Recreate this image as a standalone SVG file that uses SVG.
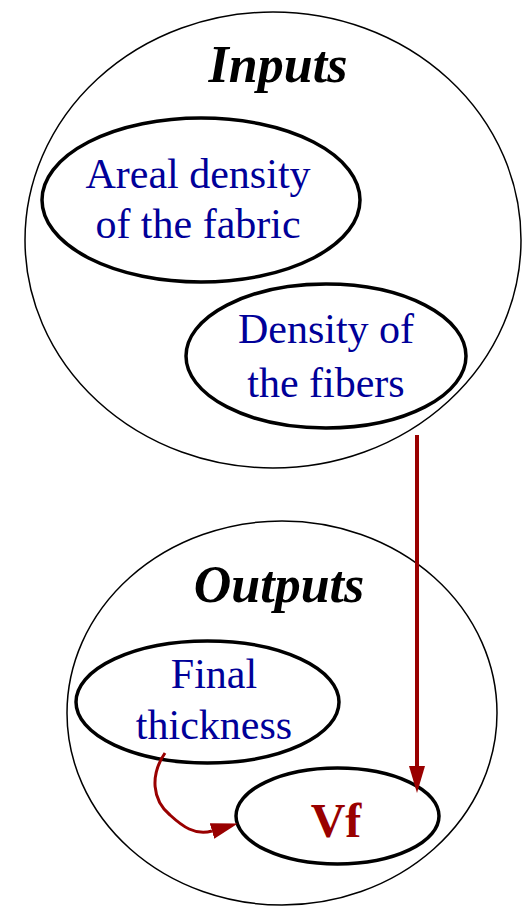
<svg xmlns="http://www.w3.org/2000/svg" width="522" height="906" viewBox="0 0 522 906">
  <style>
    .group { fill: none; stroke: #000; stroke-width: 1.5; }
    .item { fill: none; stroke: #000; stroke-width: 3.5; }
    .title { font-family: "Liberation Serif", "Times New Roman", serif; font-size: 52px; font-weight: bold; font-style: italic; fill: #000; text-anchor: middle; }
    .label { font-family: "Liberation Serif", "Times New Roman", serif; font-size: 42px; fill: #000099; text-anchor: middle; }
    .result { font-family: "Liberation Serif", "Times New Roman", serif; font-size: 48px; font-weight: bold; fill: #990000; text-anchor: middle; }
    .link { fill: none; stroke: #990000; }
  </style>
  <defs>
    <marker id="head" markerUnits="userSpaceOnUse" markerWidth="30" markerHeight="20" refX="0" refY="8" orient="auto" viewBox="0 0 30 16">
      <path d="M0,0 L27,8 L0,16 z" fill="#990000"/>
    </marker>
  </defs>

  <g id="inputs">
    <ellipse class="group" cx="273" cy="240" rx="248" ry="228"/>
    <text class="title" x="278" y="82">Inputs</text>
  </g>
  <g id="areal-density">
    <ellipse class="item" cx="201" cy="200" rx="159" ry="82"/>
    <text class="label" x="198" y="188">Areal density</text>
    <text class="label" x="198" y="238">of the fabric</text>
  </g>
  <g id="fiber-density">
    <ellipse class="item" cx="326" cy="356" rx="140" ry="72"/>
    <text class="label" x="326" y="343">Density of</text>
    <text class="label" x="326" y="397">the fibers</text>
  </g>

  <g id="outputs">
    <ellipse class="group" cx="282" cy="713" rx="215" ry="192"/>
    <text class="title" x="279" y="602">Outputs</text>
  </g>
  <g id="final-thickness">
    <ellipse class="item" cx="207.5" cy="702" rx="131.5" ry="61"/>
    <text class="label" x="214" y="688">Final</text>
    <text class="label" x="214" y="739">thickness</text>
  </g>
  <g id="vf">
    <ellipse class="item" cx="337.5" cy="816" rx="101.5" ry="48"/>
    <text class="result" x="336" y="837">Vf</text>
  </g>

  <g id="connectors">
    <line class="link" x1="417" y1="435" x2="417" y2="766" stroke-width="4" marker-end="url(#head)"/>
    <path class="link" d="M165,753 C150,775 152,800 170,815 C182,826 195,836 212,831" stroke-width="3" marker-end="url(#head)"/>
  </g>
</svg>
